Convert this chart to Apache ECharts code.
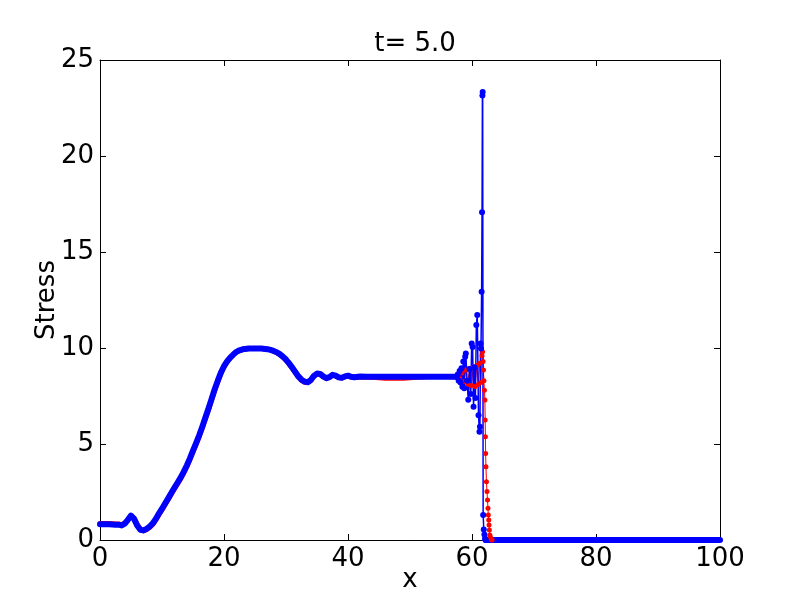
<!DOCTYPE html>
<html>
<head>
<meta charset="utf-8">
<script src="https://cdn.jsdelivr.net/npm/echarts@6/dist/echarts.min.js"></script>
<style>html,body{margin:0;padding:0;background:#fff}#c{width:800px;height:600px}</style>
</head>
<body>
<div id="c"></div>
<script>
// ---- data ----
const xTicks = [0, 20, 40, 60, 80, 100];
const yTicks = [0, 5, 10, 15, 20, 25];

const smoothX = [0,0.5,1,1.5,2,2.5,3,3.5,4,4.5,5,5.5,6,6.5,7,7.5,8,8.5,9,9.5,10,10.5,11,11.5,12,12.5,13,13.5,14,14.5,15,15.5,16,16.5,17,17.5,18,18.5,19,19.5,20,20.5,21,21.5,22,22.5,23,
  24,25,26,27,
  27.5,28,28.5,29,29.5,30,30.5,31,31.5,32,32.5,33,33.5,34,34.5,35,35.5,36,36.5,37,37.5,38,38.5,39,39.5,40,40.5,41,
  42,43,44,45,46,47,48,49,50,51,52,53,54,55,56,57,57.5];

const blueSmoothY = [0.82,0.82,0.82,0.82,0.81,0.8,0.8,0.76,0.85,1.05,1.27,1.1,0.75,0.53,0.5,0.58,0.7,0.86,1.1,1.38,1.63,1.9,2.17,2.45,2.72,2.98,3.25,3.55,3.88,4.25,4.65,5.05,5.45,5.9,6.38,6.85,7.35,7.85,8.3,8.72,9.05,9.3,9.5,9.66,9.8,9.88,9.93,
  9.97,9.98,9.97,9.94,
  9.9,9.85,9.78,9.68,9.55,9.4,9.2,8.98,8.75,8.52,8.35,8.25,8.22,8.33,8.55,8.67,8.65,8.52,8.43,8.48,8.6,8.56,8.47,8.45,8.52,8.56,8.5,8.48,
  8.52,8.5,8.5,8.5,8.5,8.5,8.5,8.5,8.5,8.5,8.5,8.5,8.5,8.5,8.5,8.5,8.5];

const redSmoothY = [0.86,0.86,0.86,0.86,0.85,0.84,0.83,0.8,0.88,1.05,1.25,1.12,0.8,0.56,0.48,0.54,0.65,0.81,1.04,1.32,1.57,1.84,2.11,2.39,2.66,2.92,3.19,3.49,3.82,4.19,4.59,4.99,5.39,5.84,6.32,6.79,7.29,7.79,8.25,8.68,9.02,9.28,9.48,9.65,9.79,9.87,9.92,
  9.97,9.98,9.97,9.94,
  9.9,9.84,9.76,9.66,9.52,9.37,9.17,8.95,8.72,8.49,8.32,8.22,8.2,8.3,8.52,8.65,8.63,8.5,8.42,8.46,8.58,8.55,8.46,8.44,8.51,8.54,8.49,8.47,
  8.49,8.48,8.47,8.45,8.43,8.42,8.42,8.43,8.45,8.47,8.49,8.51,8.52,8.52,8.51,8.5,8.5];

const blueShockX = [57.5,57.7,57.85,58.0,58.15,58.3,58.45,58.6,58.75,58.9,59.0,59.2,59.4,59.6,59.8,59.95,60.1,60.25,60.4,60.55,60.7,60.85,61.05,61.2,61.28,61.38,61.45,61.55,61.62,61.68,61.72,61.8,61.9,62.0,62.1,62.2];
const blueShockY = [8.5,8.62,8.3,8.8,8.2,8.95,7.98,9.3,7.9,9.55,9.72,8.3,7.3,8.9,7.6,10.24,10.05,6.94,9.0,7.4,11.2,11.72,6.5,5.64,5.9,10.24,9.98,12.93,17.07,23.15,23.33,1.3,0.55,0.28,0.08,0];

const redShockX = [57.5,58.0,58.4,58.7,59.0,59.3,59.6,59.9,60.2,60.5,60.8,61.0,61.25,61.45,61.62,61.7,61.78,61.85,61.92,62.0,62.08,62.12,62.16,62.2,62.25,62.33,62.42,62.5,62.58,62.63,62.7,62.75,62.8,62.88,62.98,63.1,63.25];
const redShockY = [8.5,8.45,8.7,8.25,8.85,8.1,8.95,8.05,9.0,8.0,9.1,8.1,9.2,8.2,9.6,9.8,9.3,8.85,8.3,7.8,7.29,6.25,5.38,4.5,3.82,3.04,2.52,2.08,1.65,1.3,1.04,0.78,0.52,0.26,0.14,0.04,0];

const blueTailX = [62.2, 100];
const blueTailY = [0, 0];
const redTailX = [63.25, 100];
const redTailY = [0, 0];

// ---- build ----
const zip = (xs, ys) => xs.map((x, i) => [x, ys[i]]);
const FONT = 'DejaVu Sans';
const BLUE = '#0000ff', RED = '#ff0000';

function band(xs, ys, color, w) {
  return { type: 'line', data: zip(xs, ys), showSymbol: false, symbol: 'none',
    lineStyle: { color: color, width: w, join: 'round', cap: 'round' }, itemStyle: { color: color },
    clip: true, silent: true, animation: false };
}
function shock(xs, ys, color, w, s) {
  return { type: 'line', data: zip(xs, ys), symbol: 'circle', symbolSize: s, showSymbol: true,
    lineStyle: { color: color, width: w }, itemStyle: { color: color, borderWidth: 0 },
    clip: true, silent: true, animation: false };
}

const axisLine = { show: true, onZero: false, lineStyle: { color: '#000', width: 1 } };
const tick = { show: true, inside: true, length: 6, lineStyle: { color: '#000', width: 1 } };

const chart = echarts.init(document.getElementById('c'), null, { renderer: 'canvas' });
chart.setOption({
  animation: false,
  backgroundColor: '#fff',
  title: { text: 't= 5.0', left: 410, top: 26, textAlign: 'center',
    textStyle: { fontFamily: FONT, fontSize: 26, fontWeight: 'normal', color: '#000' } },
  grid: { left: 100, right: 80, top: 60, bottom: 60, containLabel: false, outerBoundsMode: 'none' },
  xAxis: [
    { type: 'value', min: xTicks[0], max: xTicks[xTicks.length - 1], interval: 20, position: 'bottom',
      axisLine: axisLine, axisTick: tick, splitLine: { show: false },
      axisLabel: { fontFamily: FONT, fontSize: 26, color: '#000', margin: 6 },
      name: 'x', nameLocation: 'middle', nameGap: 27, nameMoveOverlap: false,
      nameTextStyle: { fontFamily: FONT, fontSize: 26, color: '#000' } },
    { type: 'value', min: 0, max: 100, interval: 20, position: 'top',
      axisLine: axisLine, axisTick: tick, splitLine: { show: false }, axisLabel: { show: false } }
  ],
  yAxis: [
    { type: 'value', min: yTicks[0], max: yTicks[yTicks.length - 1], interval: 5, position: 'left',
      axisLine: axisLine, axisTick: tick, splitLine: { show: false },
      axisLabel: { fontFamily: FONT, fontSize: 26, color: '#000', margin: 6 },
      name: 'Stress', nameLocation: 'middle', nameGap: 40, nameRotate: 90, nameMoveOverlap: false,
      nameTextStyle: { fontFamily: FONT, fontSize: 26, color: '#000' } },
    { type: 'value', min: 0, max: 25, interval: 5, position: 'right',
      axisLine: axisLine, axisTick: tick, splitLine: { show: false }, axisLabel: { show: false } }
  ],
  series: [
    band(smoothX, redSmoothY, RED, 5),
    band(redTailX, redTailY, RED, 5),
    shock(redShockX, redShockY, RED, 1, 5),
    band(smoothX, blueSmoothY, BLUE, 6),
    band(blueTailX, blueTailY, BLUE, 6),
    shock(blueShockX, blueShockY, BLUE, 1.5, 6)
  ]
});
</script>
</body>
</html>
